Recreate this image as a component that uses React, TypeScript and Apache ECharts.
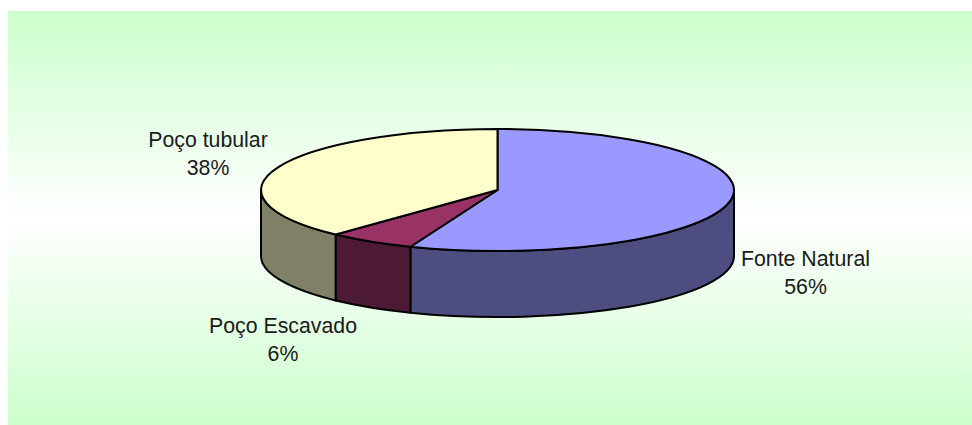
import React, { useEffect, useRef } from "react";
import * as echarts from "echarts";

// Origem da água: share of each source, in percent.
const categories = ["Fonte Natural", "Poço Escavado", "Poço tubular"];
const shares = [56, 6, 38];
const topColors = ["#9999FF", "#993366", "#FFFFCC"];
const sideColors = ["#4D4D80", "#4D1A33", "#808066"];

// Centre of each label's text block, in page pixels.
const labelCentres = [
  [805.5, 273],
  [283, 340],
  [208, 154],
];

const WIDTH = 972;
const HEIGHT = 425;
const CX = 497.5;
const CY = 190;
const RX = 236.5;
const RY = 61;
const DEPTH = 66;
const LINE = 2;

const point = (deg: number, dy = 0) => {
  const r = (deg * Math.PI) / 180;
  return [CX + RX * Math.sin(r), CY - RY * Math.cos(r) + dy];
};

const fmt = (p: number[]) => `${p[0].toFixed(2)} ${p[1].toFixed(2)}`;

// Clockwise elliptical arc; long spans are split so each stays under 180 degrees.
const arc = (from: number, to: number, dy: number, reverse = false) => {
  const steps = Math.ceil(Math.abs(to - from) / 90);
  let d = "";
  for (let i = 1; i <= steps; i++) {
    const a = from + ((to - from) * i) / steps;
    d += ` A ${RX} ${RY} 0 0 ${reverse ? 0 : 1} ${fmt(point(a, dy))}`;
  }
  return d;
};

const topPath = (a0: number, a1: number) =>
  `M ${CX} ${CY} L ${fmt(point(a0))}${arc(a0, a1, 0)} Z`;

const wallPath = (a0: number, a1: number) =>
  `M ${fmt(point(a0))}${arc(a0, a1, 0)} L ${fmt(point(a1, DEPTH))}${arc(a1, a0, DEPTH, true)} Z`;

export default function App() {
  const ref = useRef<HTMLDivElement>(null);

  useEffect(() => {
    const chart = echarts.init(ref.current!, null, { renderer: "svg" });
    const total = shares.reduce((s, v) => s + v, 0);

    chart.setOption({
      animation: false,
      graphic: [
        {
          type: "rect",
          z: -10,
          shape: { x: 8, y: 11, width: WIDTH - 8, height: HEIGHT - 11 },
          style: {
            fill: new echarts.graphic.LinearGradient(0, 0, 0, 1, [
              { offset: 0, color: "#CCFFCC" },
              { offset: 0.5, color: "#FFFFFF" },
              { offset: 1, color: "#CCFFCC" },
            ]),
          },
        },
      ],
      series: [
        {
          type: "custom",
          coordinateSystem: "none",
          silent: true,
          data: shares.map((v, i) => ({ name: categories[i], value: [v] })),
          renderItem: (params: any, api: any) => {
            const i = params.dataIndex;
            const before = shares.slice(0, i).reduce((s, v) => s + v, 0);
            const a0 = (before / total) * 360;
            const a1 = a0 + (api.value(0) / total) * 360;
            const children: any[] = [];
            // Only the part of the rim facing the viewer (90 to 270 degrees) shows.
            const w0 = Math.max(a0, 90);
            const w1 = Math.min(a1, 270);
            if (w1 > w0) {
              children.push({
                type: "path",
                shape: { pathData: wallPath(w0, w1) },
                style: { fill: sideColors[i], stroke: "#000", lineWidth: LINE, lineJoin: "round" },
              });
            }
            children.push({
              type: "path",
              shape: { pathData: topPath(a0, a1) },
              style: { fill: topColors[i], stroke: "#000", lineWidth: LINE, lineJoin: "round" },
            });
            children.push({
              type: "text",
              style: {
                x: labelCentres[i][0],
                y: labelCentres[i][1],
                text: `${categories[i]}\n${api.value(0)}%`,
                fill: "#1a1a1a",
                font: '21.3px "Liberation Sans", Arial, sans-serif',
                lineHeight: 28,
                align: "center",
                verticalAlign: "middle",
              },
            });
            return { type: "group", children };
          },
        },
      ],
    });

    return () => chart.dispose();
  }, []);

  return (
    <div
      ref={ref}
      style={{ position: "absolute", left: 0, top: 0, width: WIDTH, height: HEIGHT }}
    />
  );
}
